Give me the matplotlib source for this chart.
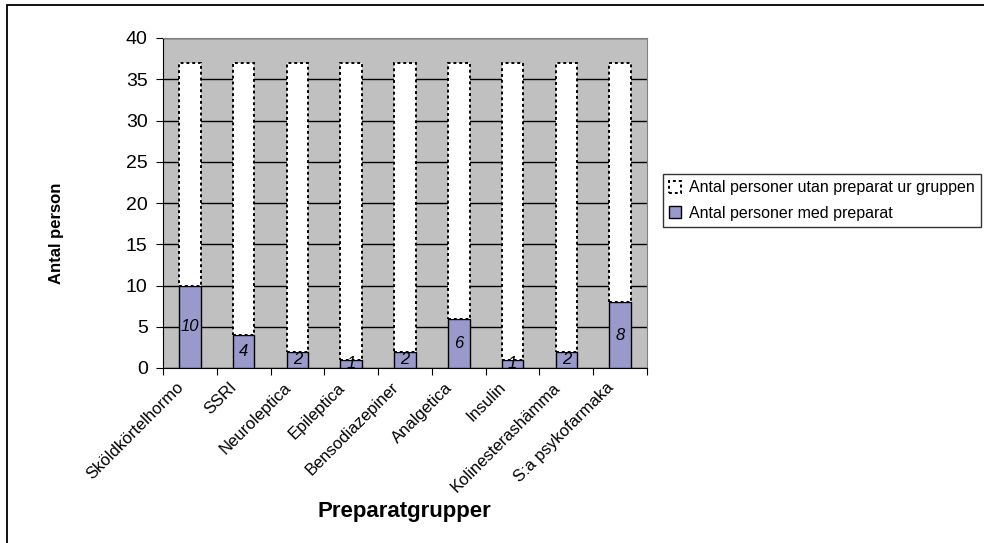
import numpy as np
import matplotlib.pyplot as plt
import matplotlib.transforms as mtransforms
from matplotlib.patches import Rectangle

plt.rcParams['font.family'] = ['Liberation Sans', 'DejaVu Sans']

# Preparatgrupper (etiketterna avkortade som i diagrammet)
grupper = ['Sköldkörtelhormo', 'SSRI', 'Neuroleptica', 'Epileptica',
           'Bensodiazepiner', 'Analgetica', 'Insulin', 'Kolinesterashämma',
           'S:a psykofarmaka']
med_preparat = [10, 4, 2, 1, 2, 6, 1, 2, 8]
utan_preparat = [27, 33, 35, 36, 35, 31, 36, 35, 29]

W, H = 984, 543
fig = plt.figure(figsize=(W/100, H/100), dpi=100)
ax = fig.add_axes([163/W, 1-368/H, (647-163)/W, (368-38)/H])
ax.set_facecolor('#C0C0C0')

x = np.arange(len(grupper))
bredd = 0.40

ax.yaxis.grid(True, color='black', linewidth=1.0)
ax.set_axisbelow(True)

b1 = ax.bar(x, med_preparat, bredd, color='#9999CC', edgecolor='black',
            linewidth=1.0, label='Antal personer med preparat', zorder=3)
b2 = ax.bar(x, utan_preparat, bredd, bottom=med_preparat, color='white',
            edgecolor='black', linewidth=1.4, linestyle=(0, (1.5, 1.5)),
            label='Antal personer utan preparat ur gruppen', zorder=3)

# värdena i de lila staplarna
for xi, v in zip(x, med_preparat):
    ax.text(xi, v/2, str(v), ha='center', va='center', fontsize=12,
            style='italic', zorder=4)

ax.set_xlim(-0.5, len(grupper) - 0.5)
ax.set_ylim(0, 40)
ax.set_yticks(range(0, 41, 5))
ax.tick_params(axis='y', labelsize=14, length=5, direction='out', pad=6)

# tickmarkeringar mellan kategorierna, etiketter under staplarna
ax.set_xticks(np.arange(-0.5, len(grupper), 1))
ax.set_xticklabels([])
ax.tick_params(axis='x', length=5, direction='out')

# etiketterna klipps strax under axeln
klipp = Rectangle((0, 0), 1, 1 - 377/H, transform=fig.transFigure,
                  visible=False)
fig.patches.append(klipp)
offset = mtransforms.ScaledTranslation(-0.09, -0.17, fig.dpi_scale_trans)
for xi, namn in zip(x, grupper):
    t = ax.text(xi, 0, namn, rotation=45, rotation_mode='anchor',
                ha='right', va='center', fontsize=12,
                transform=ax.get_xaxis_transform() + offset)
    t.set_clip_path(klipp)

for s in ['top', 'right']:
    ax.spines[s].set_color('#808080')
for s in ['left', 'bottom']:
    ax.spines[s].set_color('black')

fig.text(56/W, 1-233/H, 'Antal person', rotation=90, ha='center',
         va='center', fontsize=12, fontweight='bold')
fig.text(404/W, 1-512/H, 'Preparatgrupper', ha='center', va='center',
         fontsize=16, fontweight='bold')

leg = fig.legend(handles=[b2, b1], loc='upper left',
                 bbox_to_anchor=(663/W, 1-174/H), fontsize=11.5,
                 frameon=True, fancybox=False, handlelength=0.75,
                 handleheight=0.75, handletextpad=0.45, borderpad=0.4,
                 labelspacing=0.65, borderaxespad=0)
leg.get_frame().set_edgecolor('black')
leg.get_frame().set_linewidth(1.0)

# ram runt hela diagrammet
fig.patches.append(Rectangle((7/W, -0.1), 2, 1 - 5/H + 0.1, fill=False,
                             edgecolor='black', linewidth=1.3,
                             transform=fig.transFigure))

fig.savefig('out.png', dpi=100)
